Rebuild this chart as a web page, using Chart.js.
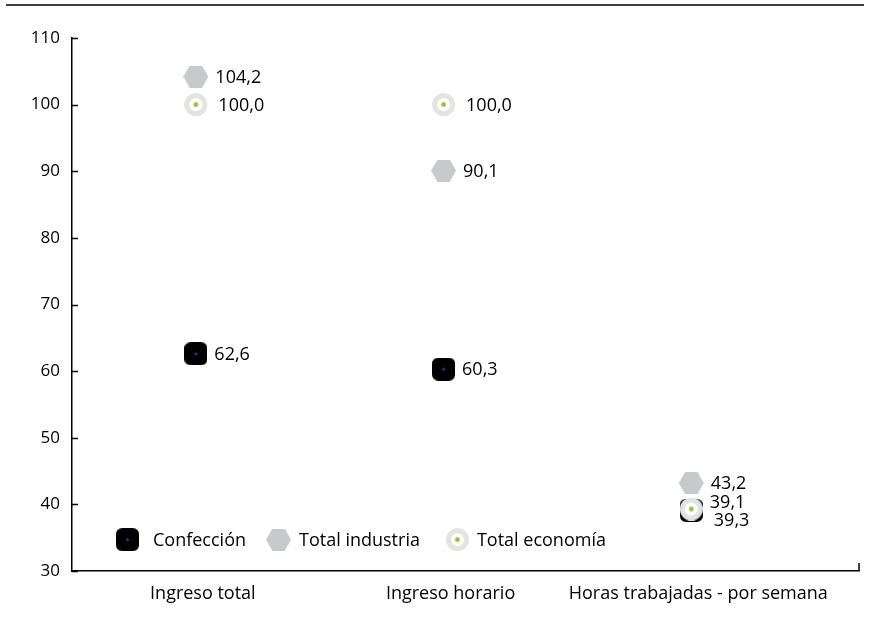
<!DOCTYPE html>
<html><head><meta charset="utf-8">
<script src="https://cdn.jsdelivr.net/npm/chart.js@4"></script>
<style>html,body{margin:0;padding:0;background:#fff;}#wrap{width:871px;height:619px;position:relative;}</style>
</head><body><div id="wrap"><canvas id="c" width="871" height="619"></canvas></div>
<script>
// ---- data ----
const categories = ['Ingreso total', 'Ingreso horario', 'Horas trabajadas - por semana'];
const seriesNames = ['Confección', 'Total industria', 'Total economía'];
const confeccion = [62.6, 60.3, 39.1];
const totalIndustria = [104.2, 90.1, 43.2];
const totalEconomia = [100.0, 100.0, 39.3];
const yTicks = [30, 40, 50, 60, 70, 80, 90, 100, 110];

// ---- styles ----
const FONT = 'Open Sans';
const TEXT = '#000';
const LABEL_SIZE = 18;
function mk(w, h, draw) { const c = document.createElement('canvas'); c.width = w; c.height = h; draw(c.getContext('2d'), w, h); return c; }
function rr(g, x, y, w, h, r) { g.beginPath(); g.moveTo(x + r, y); g.lineTo(x + w - r, y); g.quadraticCurveTo(x + w, y, x + w, y + r); g.lineTo(x + w, y + h - r); g.quadraticCurveTo(x + w, y + h, x + w - r, y + h); g.lineTo(x + r, y + h); g.quadraticCurveTo(x, y + h, x, y + h - r); g.lineTo(x, y + r); g.quadraticCurveTo(x, y, x + r, y); g.closePath(); }
const markConf = mk(23, 23, (g, w, h) => { g.fillStyle = '#000'; rr(g, 0, 0, w, h, 6.5); g.fill(); g.fillStyle = '#1d3c86'; g.beginPath(); g.arc(w / 2, h / 2, 1.6, 0, Math.PI * 2); g.fill(); });
const markInd = mk(25, 22, (g, w, h) => { g.fillStyle = '#c8c9cb'; g.beginPath(); g.moveTo(0, h / 2); g.lineTo(w * 0.25, 0); g.lineTo(w * 0.75, 0); g.lineTo(w, h / 2); g.lineTo(w * 0.75, h); g.lineTo(w * 0.25, h); g.closePath(); g.fill(); });
const markEco = mk(23, 23, (g, w, h) => { g.fillStyle = '#e3e4e2'; g.beginPath(); g.arc(w / 2, h / 2, 11.5, 0, Math.PI * 2); g.fill(); g.fillStyle = '#fff'; g.beginPath(); g.arc(w / 2, h / 2, 6.5, 0, Math.PI * 2); g.fill(); g.fillStyle = '#8dc540'; g.beginPath(); g.arc(w / 2, h / 2, 2.4, 0, Math.PI * 2); g.fill(); });
const markers = [markConf, markInd, markEco];
const labelGap = [7, 7, 11];
const labelNudge = [{ 2: -8 }, {}, { 2: 11 }];

const seriesValues = [confeccion, totalIndustria, totalEconomia];
const datasets = seriesValues.map((vals, i) => ({
  label: seriesNames[i],
  data: vals.map((v, j) => ({ x: j, y: v })),
  pointStyle: markers[i],
  pointRadius: 11,
  pointHoverRadius: 11,
  showLine: false,
  order: i === 2 ? -1 : i
}));

const fmt = v => v.toFixed(1).replace('.', ',');

const decor = {
  id: 'decor',
  afterDatasetsDraw(chart) {
    const ctx = chart.ctx;
    ctx.save();
    ctx.font = LABEL_SIZE + 'px "' + FONT + '"';
    ctx.fillStyle = TEXT;
    ctx.textAlign = 'left';
    ctx.textBaseline = 'middle';
    chart.data.datasets.forEach((ds, i) => {
      const meta = chart.getDatasetMeta(i);
      meta.data.forEach((pt, j) => {
        const dy = labelNudge[i][j] || 0;
        ctx.fillText(fmt(ds.data[j].y), pt.x + markers[i].width / 2 + labelGap[i], pt.y + dy + 1);
      });
    });
    // legend inside plot
    const ly = chart.scales.y.getPixelForValue(35) + 2;
    let x = chart.chartArea.left + 44;
    chart.data.datasets.forEach((ds, i) => {
      const m = markers[i];
      ctx.drawImage(m, x, ly - m.height / 2);
      x += m.width + (i === 0 ? 14 : (i === 1 ? 8 : 8));
      ctx.fillText(ds.label, x, ly + 1);
      x += ctx.measureText(ds.label).width + (i === 0 ? 20 : 26);
    });
    ctx.restore();
  },
  afterDraw(chart) {
    const ctx = chart.ctx, a = chart.chartArea, ys = chart.scales.y;
    ctx.save();
    ctx.strokeStyle = '#000';
    ctx.lineWidth = 1.5;
    ctx.beginPath();
    yTicks.forEach(v => { const y = Math.round(ys.getPixelForValue(v)) + 0.5; ctx.moveTo(a.left, y); ctx.lineTo(a.left + 6, y); });
    ctx.moveTo(a.right, a.bottom); ctx.lineTo(a.right, a.bottom - 8);
    ctx.stroke();
    ctx.beginPath();
    ctx.moveTo(6, 5); ctx.lineTo(864, 5);
    ctx.stroke();
    ctx.restore();
  }
};

new Chart(document.getElementById('c'), {
  type: 'scatter',
  data: { datasets },
  options: {
    responsive: false,
    animation: false,
    events: [],
    layout: { padding: { top: 38, right: 11, left: 0, bottom: 0 } },
    plugins: { legend: { display: false }, tooltip: { enabled: false } },
    scales: {
      x: {
        type: 'linear', min: -0.5, max: 2.677,
        afterBuildTicks: s => { s.ticks = categories.map((_, i) => ({ value: i })); },
        afterFit: s => { s.height = 48; },
        ticks: { callback: v => categories[v], color: TEXT, font: { family: FONT, size: LABEL_SIZE }, padding: 4, labelOffset: 7, maxRotation: 0, autoSkip: false },
        grid: { display: false },
        border: { display: true, color: '#000', width: 1.5 }
      },
      y: {
        min: 30, max: 110,
        afterBuildTicks: s => { s.ticks = yTicks.map(v => ({ value: v })); },
        afterFit: s => { s.width = 72; },
        ticks: { color: TEXT, font: { family: FONT, size: 17 }, padding: 4 },
        grid: { display: false },
        border: { display: true, color: '#000', width: 1.5 }
      }
    }
  },
  plugins: [decor]
});
</script>
</body></html>
